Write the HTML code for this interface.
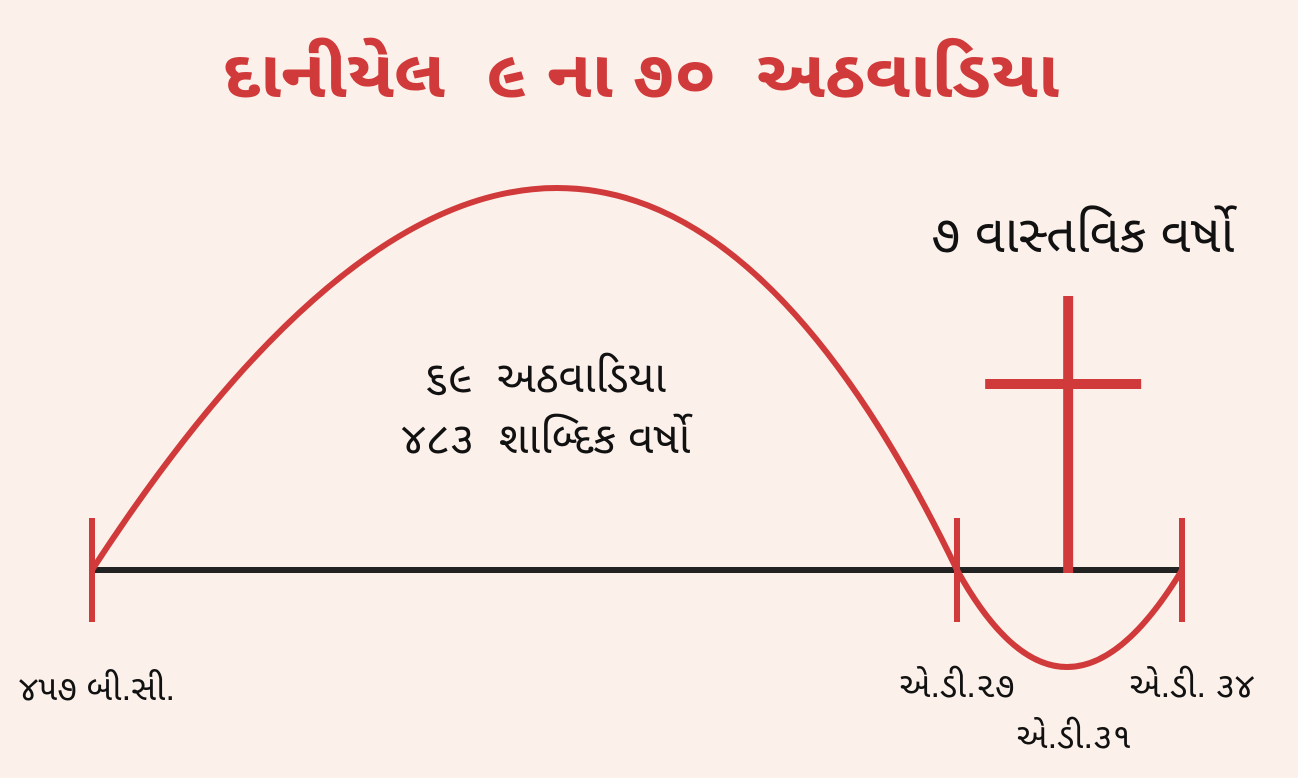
<!DOCTYPE html>
<html><head><meta charset="utf-8"><style>
html,body{margin:0;padding:0;background:#fcf1ea;}
svg{display:block;font-family:"Liberation Sans","Noto Sans Gujarati",sans-serif;}
text{white-space:pre;}
</style></head><body>
<svg id="chart" width="1298" height="778" viewBox="0 0 1298 778" xml:space="preserve">
<rect width="1298" height="778" fill="#fcf1ea"/>
<text x="641" y="97" text-anchor="middle" font-size="66" font-weight="bold" fill="#d13a3a" textLength="836" lengthAdjust="spacingAndGlyphs">દાનીયેલ  ૯ ના ૭૦  અઠવાડિયા</text>
<g id="marks"></g>
<text x="545" y="392" text-anchor="middle" font-size="44" fill="#111">૬૯  અઠવાડિયા</text>
<text x="546" y="453" text-anchor="middle" font-size="44" fill="#111">૪૮૩  શાબ્દિક વર્ષો</text>
<text x="1083" y="252" text-anchor="middle" font-size="52" fill="#111">૭ વાસ્તવિક વર્ષો</text>
</svg>
<script>
// timeline data: years (BC negative) and labels
const years = [-457, 27, 31, 34];
const tickLabels = ["૪૫૭ બી.સી.", "એ.ડી.૨૭", "એ.ડી.૩૧", "એ.ડી. ૩૪"];
const arcPeaks = [382, 97]; // arc heights (px) above/below baseline for 69 weeks and final week

const baseY = 570;
// piecewise scale: prophetic segment (-457..27) and final week (27..34)
function xScale(y){
  if (y <= 27) return 92 + (y + 457) / 484 * (957 - 92);
  return 957 + Math.pow((y - 27) / 7, 1.26) * (1182 - 957);
}
const NS = "http://www.w3.org/2000/svg";
const g = document.getElementById('marks');
function mk(tag, attrs){ const e = document.createElementNS(NS, tag); for (const k in attrs) e.setAttribute(k, attrs[k]); g.appendChild(e); return e; }

const x0 = xScale(years[0]), x1 = xScale(years[1]), x2 = xScale(years[2]), x3 = xScale(years[3]);
const axis = mk('line', {x1:x0, y1:baseY, x2:x3, y2:baseY, stroke:'#222', 'stroke-width':6});



// arcs
const c1y = baseY - 2*arcPeaks[0], c2y = baseY + 2*arcPeaks[1];
const arc = mk('path', {d:`M${x0},${baseY} Q${(x0+x1)/2+65},${c1y} ${x1},${baseY} Q${(x1+x3)/2-5},${c2y} ${x3},${baseY}`, fill:'none', stroke:'#d13a3a', 'stroke-width':6});



// ticks
[x0, x1, x3].forEach((x) => {
  const t = mk('line', {x1:x, y1:518, x2:x, y2:622, stroke:'#d13a3a', 'stroke-width':6});
  
  
});
// cross at AD 31
const v = mk('line', {x1:x2, y1:296, x2:x2, y2:573, stroke:'#d13a3a', 'stroke-width':10});


const h = mk('line', {x1:x2-83, y1:384, x2:x2+73, y2:384, stroke:'#d13a3a', 'stroke-width':10});



// labels
const labelPos = [[x0+5, 700], [x1, 697], [x2+6, 748], [x3+10, 697]];
tickLabels.forEach((s, i) => {
  const t = mk('text', {x:labelPos[i][0], y:labelPos[i][1], 'text-anchor':'middle', 'font-size':35, fill:'#111'});
  t.textContent = s;
  
  
});
</script>
</body></html>
